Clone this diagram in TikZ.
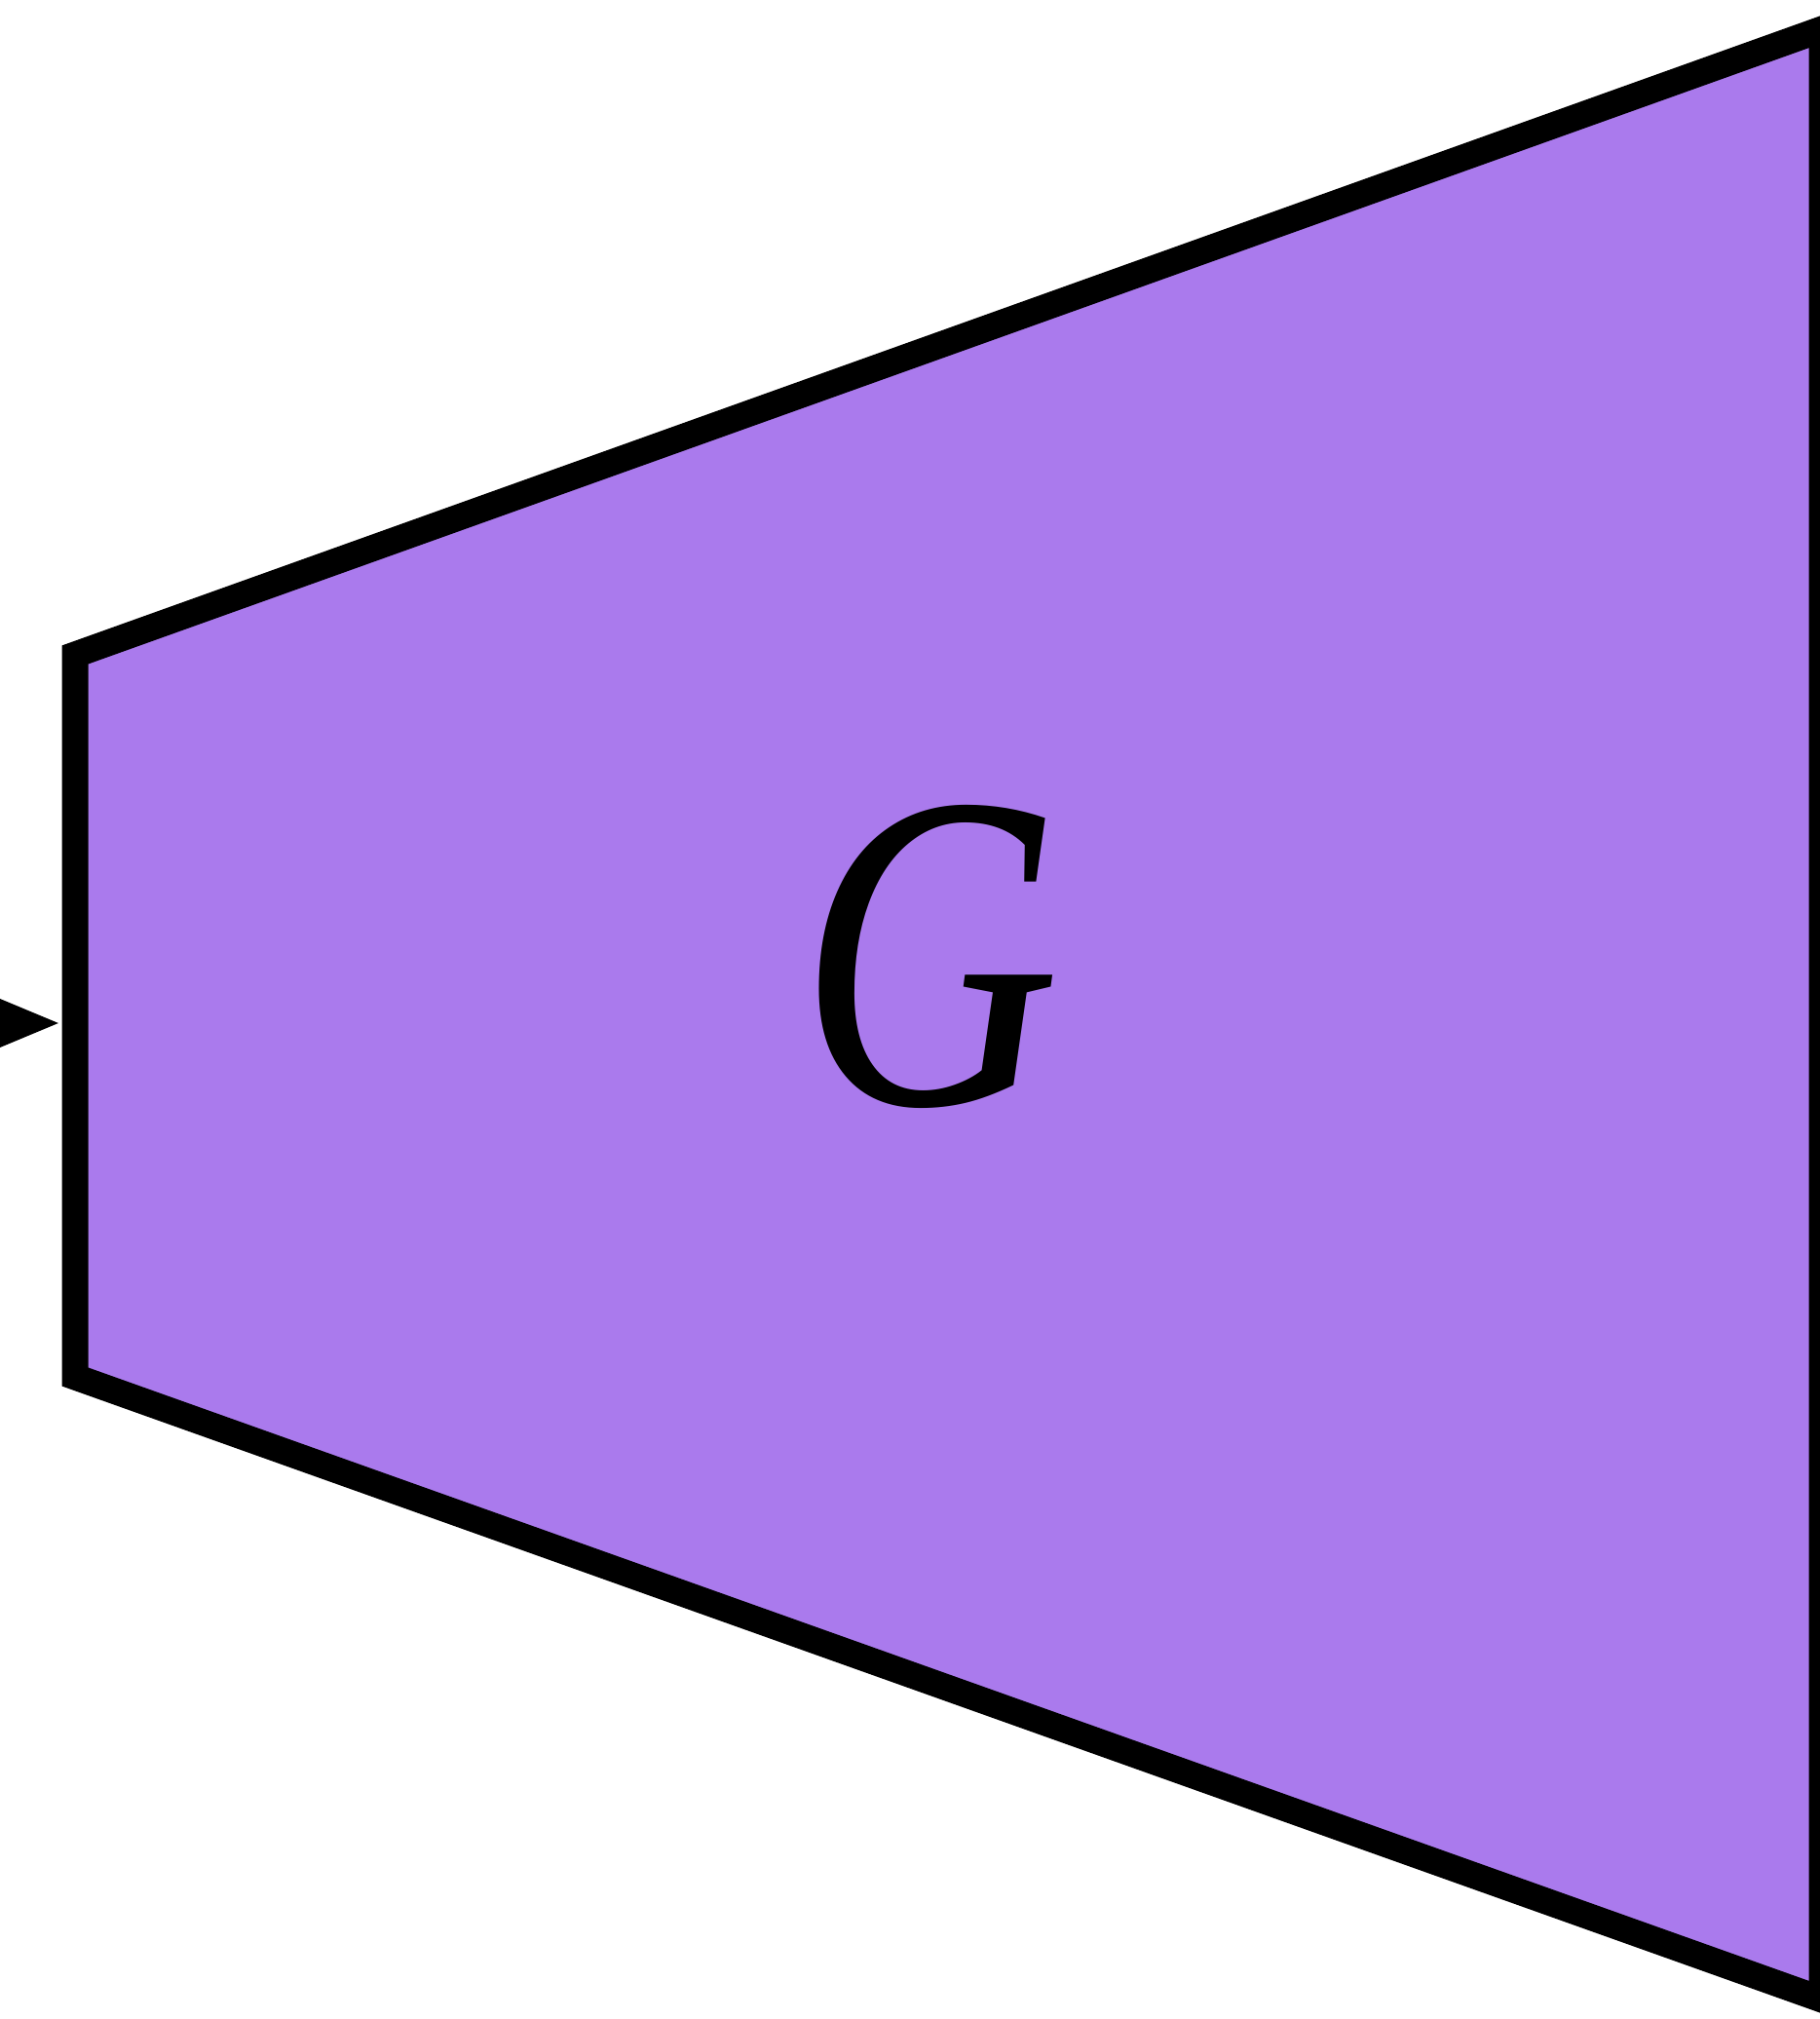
\documentclass[tikz,border=0pt]{standalone}
\usepackage{fontspec}
\setmainfont{Liberation Serif}
\usetikzlibrary{arrows.meta,calc}
\definecolor{gpurple}{RGB}{170,122,237}
\tikzset{
  blockshape/.style={draw=black, fill=gpurple, line width=0.27cm, line join=miter},
  inarrow/.style={line width=0.2cm, -{Triangle[length=0.9cm,width=0.66cm]}},
  biglabel/.style={font=\fontsize{132}{132}\selectfont\itshape, inner sep=0pt, xscale=0.8}
}
\begin{document}
\begin{tikzpicture}
\useasboundingbox (0,0) rectangle (18.68,20.72);
\coordinate (TL) at (0.77,14.00);
\coordinate (BL) at (0.77,6.59);
\coordinate (TR) at (18.70,20.42);
\coordinate (BR) at (18.70,0.20);
\draw[blockshape] (TL) -- (TR) -- (BR) -- (BL) -- cycle;
\node[biglabel] (G) at (9.55,10.90) {G};
\coordinate (inpt) at (0.77,10.22);
\coordinate (src) at (-2.0,10.22);
\draw[inarrow, shorten >=0.14cm] (src) -- (inpt);
\end{tikzpicture}
\end{document}
